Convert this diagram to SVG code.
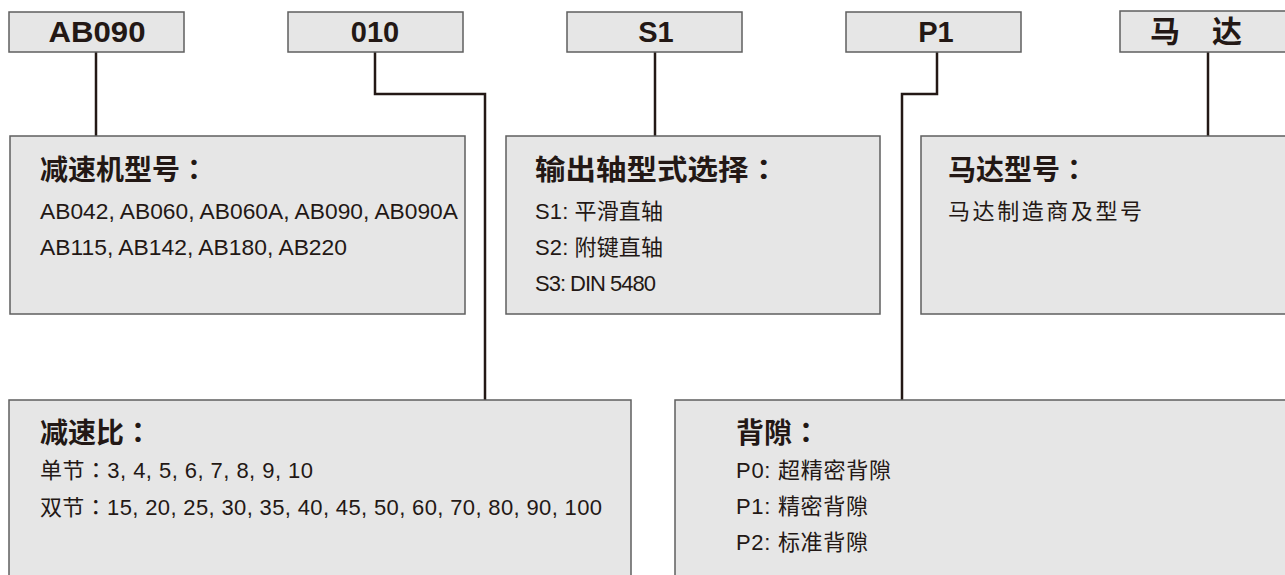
<svg xmlns="http://www.w3.org/2000/svg" width="1285" height="575" viewBox="0 0 1285 575">
<style>
.box{fill:#e6e6e6;stroke:#5f5f5f;stroke-width:1.5}
.code{font-family:"Liberation Sans","Noto Sans CJK SC",sans-serif;font-weight:bold;font-size:29px;fill:#231815;text-anchor:middle}
.cjkcode{font-family:"Noto Sans CJK SC",sans-serif;font-weight:bold;font-size:30px;fill:#231815;text-anchor:middle}
.head{font-family:"Noto Sans CJK SC","Liberation Sans",sans-serif;font-weight:bold;font-size:28px;fill:#231815}
.body{font-family:"Liberation Sans","Noto Sans CJK SC",sans-serif;font-size:22px;fill:#231815}
.col{font-family:"Noto Sans CJK JP",sans-serif}
.conn{fill:none;stroke:#231815;stroke-width:2.5}
</style>
<rect width="1285" height="575" fill="#ffffff"/>
<g id="connectors">
<path class="conn" d="M96 52V136"/>
<path class="conn" d="M375 52V94H485V400"/>
<path class="conn" d="M655 52V136"/>
<path class="conn" d="M937 52V94H902V400"/>
<path class="conn" d="M1208 52V136"/>
</g>
<g id="code-ab090"><rect class="box" x="9" y="12" width="175" height="40"/><text class="code" x="97" y="42" textLength="97" lengthAdjust="spacingAndGlyphs">AB090</text></g>
<g id="code-010"><rect class="box" x="288" y="12" width="175" height="40"/><text class="code" x="375" y="42">010</text></g>
<g id="code-s1"><rect class="box" x="567" y="12" width="175" height="40"/><text class="code" x="656" y="42">S1</text></g>
<g id="code-p1"><rect class="box" x="846" y="12" width="175" height="40"/><text class="code" x="936" y="42">P1</text></g>
<g id="code-motor"><rect class="box" x="1120" y="11" width="175" height="41"/><text class="cjkcode" x="1196" y="42" textLength="92" lengthAdjust="spacing">马 达</text></g>
<g id="model"><rect class="box" x="10" y="136" width="455" height="178"/>
<text class="head" x="40" y="180">减速机型号<tspan class="col">：</tspan></text>
<text class="body" x="40" y="219" textLength="418" lengthAdjust="spacingAndGlyphs">AB042, AB060, AB060A, AB090, AB090A</text>
<text class="body" x="40" y="255" textLength="307" lengthAdjust="spacingAndGlyphs">AB115, AB142, AB180, AB220</text></g>
<g id="shaft"><rect class="box" x="506" y="136" width="374" height="178"/>
<text class="head" x="535" y="180" textLength="244" lengthAdjust="spacingAndGlyphs">输出轴型式选择<tspan class="col">：</tspan></text>
<text class="body" x="535" y="219" textLength="128" lengthAdjust="spacing">S1: 平滑直轴</text>
<text class="body" x="535" y="255" textLength="128" lengthAdjust="spacing">S2: 附键直轴</text>
<text class="body" x="535" y="291" textLength="121" lengthAdjust="spacing">S3: DIN 5480</text></g>
<g id="motor"><rect class="box" x="921" y="136" width="370" height="178"/>
<text class="head" x="948" y="180">马达型号<tspan class="col">：</tspan></text>
<text class="body" x="948" y="219" textLength="194" lengthAdjust="spacing">马达制造商及型号</text></g>
<g id="ratio"><rect class="box" x="9" y="400" width="622" height="180"/>
<text class="head" x="40" y="443">减速比<tspan class="col">：</tspan></text>
<text class="body" x="40" y="478" textLength="273" lengthAdjust="spacing">单节<tspan class="col">：</tspan>3, 4, 5, 6, 7, 8, 9, 10</text>
<text class="body" x="40" y="515" textLength="562" lengthAdjust="spacing">双节<tspan class="col">：</tspan>15, 20, 25, 30, 35, 40, 45, 50, 60, 70, 80, 90, 100</text></g>
<g id="backlash"><rect class="box" x="675" y="400" width="620" height="180"/>
<text class="head" x="736" y="443">背隙<tspan class="col">：</tspan></text>
<text class="body" x="736" y="478" textLength="155" lengthAdjust="spacing">P0: 超精密背隙</text>
<text class="body" x="736" y="514" textLength="132" lengthAdjust="spacing">P1: 精密背隙</text>
<text class="body" x="736" y="550" textLength="132" lengthAdjust="spacing">P2: 标准背隙</text></g>
</svg>
